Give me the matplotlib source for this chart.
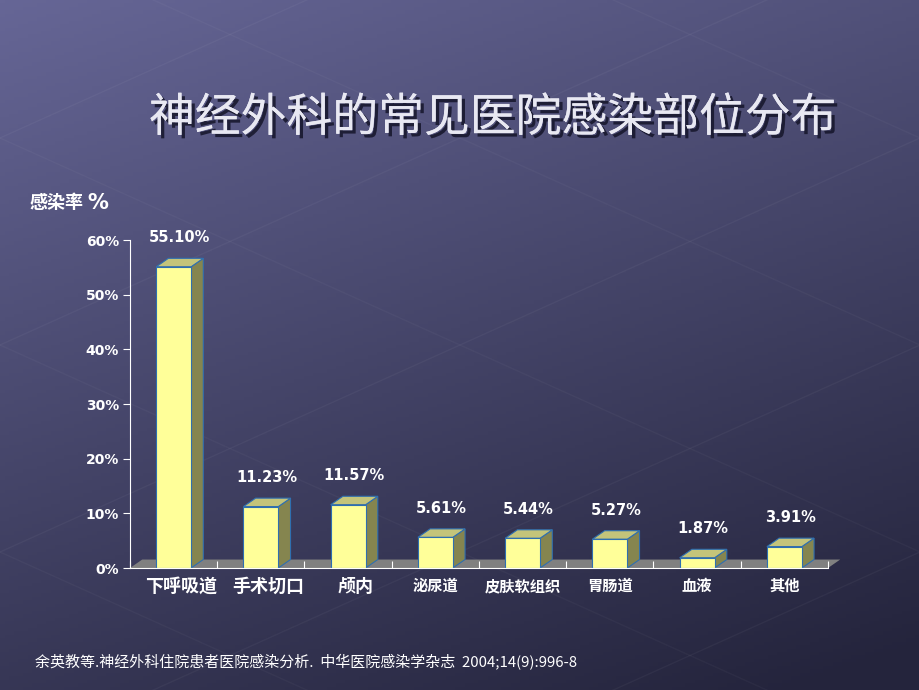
import numpy as np
import matplotlib
matplotlib.use("Agg")
import matplotlib.pyplot as plt
from matplotlib.patches import Polygon
import matplotlib.patheffects as pe

plt.rcParams['font.family'] = ['Noto Sans CJK SC', 'DejaVu Sans']

categories = ["下呼吸道", "手术切口", "颅内", "泌尿道", "皮肤软组织", "胃肠道", "血液", "其他"]
rates = [55.10, 11.23, 11.57, 5.61, 5.44, 5.27, 1.87, 3.91]
value_labels = ["55.10%", "11.23%", "11.57%", "5.61%", "5.44%", "5.27%", "1.87%", "3.91%"]
y_ticks = [0, 10, 20, 30, 40, 50, 60]
y_tick_labels = ["0%", "10%", "20%", "30%", "40%", "50%", "60%"]

title = "神经外科的常见医院感染部位分布"
y_title = "感染率"
citation = "余英教等.神经外科住院患者医院感染分析.  中华医院感染学杂志  2004;14(9):996-8"

fig = plt.figure(figsize=(9.2, 6.9), dpi=100)

# background gradient: lighter top-left, darker bottom-right
bg = fig.add_axes([0, 0, 1, 1])
yy, xx = np.mgrid[0:1:200j, 0:1:200j]
t = np.clip(0.72 * yy + 0.32 * xx, 0, 1)
top = np.array([102, 102, 150]) / 255
bot = np.array([36, 36, 60]) / 255
img = top[None, None, :] * (1 - t[..., None]) + bot[None, None, :] * t[..., None]
bg.imshow(img, extent=[0, 1, 0, 1], aspect="auto", origin="upper")
# faint decorative diagonal lines
for k in np.linspace(-1.0, 1.4, 9):
    bg.plot([0, 1], [k, k + 0.6], color="white", alpha=0.04, lw=1)
    bg.plot([0, 1], [k + 0.6, k], color="white", alpha=0.03, lw=1)
bg.set_xlim(0, 1)
bg.set_ylim(0, 1)
bg.axis("off")

ax = fig.add_axes([130 / 920, 1 - 568 / 690, 698 / 920, 328 / 690])
ax.patch.set_alpha(0)
ax.set_xlim(0, len(categories))
ax.set_ylim(0, 60)

dx, dy = 0.14, 1.55
w = 0.40

# floor
floor = Polygon([(0, 0), (len(categories), 0), (len(categories) + dx, dy), (dx, dy)],
                closed=True, facecolor="#808080", edgecolor="none", clip_on=False, zorder=1)
ax.add_patch(floor)

edge = "#2f6fb0"
for i, v in enumerate(rates):
    x0 = i + 0.5 - w / 2
    x1 = x0 + w
    side = Polygon([(x1, 0), (x1 + dx, dy), (x1 + dx, v + dy), (x1, v)],
                   closed=True, facecolor="#85854f", edgecolor=edge, lw=0.8, clip_on=False, zorder=2)
    topf = Polygon([(x0, v), (x1, v), (x1 + dx, v + dy), (x0 + dx, v + dy)],
                   closed=True, facecolor="#c4c47a", edgecolor=edge, lw=0.8, clip_on=False, zorder=2)
    front = Polygon([(x0, 0), (x1, 0), (x1, v), (x0, v)],
                    closed=True, facecolor="#ffff99", edgecolor=edge, lw=0.8, clip_on=False, zorder=3)
    ax.add_patch(side)
    ax.add_patch(topf)
    ax.add_patch(front)
    ax.text(i + 0.5 + dx / 2, v + dy + 2.4, value_labels[i], ha="center", va="bottom",
            color="white", fontsize=10.5, fontweight="bold", family=["DejaVu Sans"], zorder=4)

for s in ["top", "right"]:
    ax.spines[s].set_visible(False)
ax.spines["left"].set_color("white")
ax.spines["bottom"].set_color("white")
ax.spines["left"].set_zorder(5)
ax.spines["bottom"].set_zorder(5)

ax.set_yticks(y_ticks)
ax.set_yticklabels(y_tick_labels, color="white", fontsize=10, fontweight="bold", family=["DejaVu Sans"])
ax.tick_params(axis="y", colors="white", length=5, direction="out", pad=3)

ax.set_xticks(range(len(categories) + 1))
ax.set_xticklabels([])
ax.tick_params(axis="x", colors="white", length=5, direction="in")

for i, c in enumerate(categories):
    fs = 13 if i < 3 else 11
    xo = 0.08 if i < 3 else 0
    ax.text(i + 0.5 + xo, -3.3, c, ha="center", va="center", color="white",
            fontsize=fs, fontweight="bold", zorder=4)

fig.text(493 / 920, 1 - 118 / 690, title, ha="center", va="center", fontsize=33,
         color="#e8e8f2",
         path_effects=[pe.withSimplePatchShadow(offset=(2.5, -2.5), shadow_rgbFace="#15152a", alpha=0.85),
                       pe.Normal()])
fig.text(30 / 920, 1 - 203 / 690, y_title, ha="left", va="center", fontsize=13,
         color="white", fontweight="bold")
fig.text(87 / 920, 1 - 203 / 690, "%", ha="left", va="center", fontsize=15,
         color="white", fontweight="bold", family=["DejaVu Sans"])
fig.text(35 / 920, 1 - 662 / 690, citation, ha="left", va="center", fontsize=10.8,
         color="white")

fig.savefig("out.png", dpi=100)
